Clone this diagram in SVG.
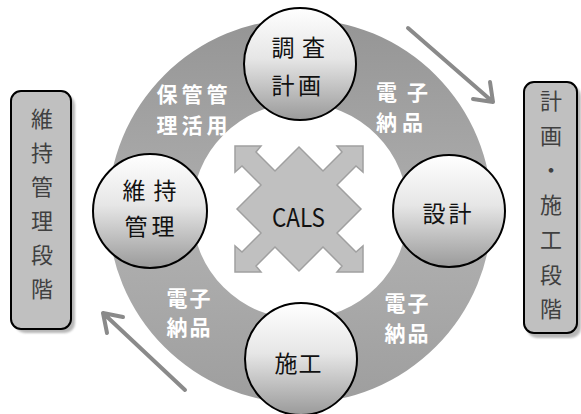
<svg xmlns="http://www.w3.org/2000/svg" width="581" height="414" viewBox="0 0 581 414">
<defs>
<linearGradient id="ringG" x1="0" y1="0" x2="0" y2="1">
<stop offset="0" stop-color="#959595"/>
<stop offset="0.55" stop-color="#b0b0b0"/>
<stop offset="1" stop-color="#9e9e9e"/>
</linearGradient>
<linearGradient id="circG" x1="0" y1="0" x2="0" y2="1">
<stop offset="0" stop-color="#ffffff"/>
<stop offset="0.45" stop-color="#e6e6e6"/>
<stop offset="1" stop-color="#9a9a9a"/>
</linearGradient>
<filter id="blur" x="-20%" y="-20%" width="140%" height="140%"><feGaussianBlur stdDeviation="1.2"/></filter>
</defs>
<style>
.node circle{fill:url(#circG);stroke:#000;stroke-width:2}
.ct{font-family:"Noto Sans CJK JP","Noto Sans CJK SC",sans-serif;font-size:23px;fill:#111;text-anchor:middle}
.wt{font-family:"Noto Sans CJK JP","Noto Sans CJK SC",sans-serif;font-size:21px;font-weight:bold;fill:#fff;text-anchor:middle}
.bt{font-family:"Noto Sans CJK JP","Noto Sans CJK SC",sans-serif;font-size:22px;fill:#404040;text-anchor:middle}
.box{fill:#c0c0c0;stroke:#000;stroke-width:2}
.shadow{fill:#9a9a9a;opacity:0.7;filter:url(#blur)}
.arr{fill:none;stroke:#8a8a8a;stroke-width:4;stroke-linecap:round;stroke-linejoin:round}
</style>
<rect width="581" height="414" fill="#fff"/>
<g id="ring">
<path d="M108,211 a192,192 0 1,0 384,0 a192,192 0 1,0 -384,0 Z M192,211 a108,108 0 1,1 216,0 a108,108 0 1,1 -216,0 Z" fill="url(#ringG)" fill-rule="evenodd"/>
<text class="wt" x="167 192 217" y="102">保管管</text>
<text class="wt" x="167 192 217" y="133">理活用</text>
<text class="wt" x="386.5 417.5" y="100">電子</text>
<text class="wt" x="386.5 412.5" y="130">納品</text>
<text class="wt" x="177 200" y="306">電子</text>
<text class="wt" x="177 200" y="335">納品</text>
<text class="wt" x="395 418" y="311">電子</text>
<text class="wt" x="395 418" y="341">納品</text>
</g>
<g id="cals">
<polygon transform="translate(299,209)" fill="#c0c0c0" stroke="#a0a0a0" stroke-width="1.5" stroke-linejoin="miter" points="0,-62 24,-38 43,-57 38,-63 64,-63 64,-37 57,-43 38,-24 62,0 38,24 57,43 64,37 64,63 38,63 43,57 24,38 0,62 -24,38 -43,57 -38,63 -64,63 -64,37 -57,43 -38,24 -62,0 -38,-24 -57,-43 -64,-37 -64,-63 -38,-63 -43,-57 -24,-38"/>
<text x="298.5" y="227" font-family="'Noto Sans CJK JP',sans-serif" font-size="26" fill="#111" text-anchor="middle" textLength="53" lengthAdjust="spacingAndGlyphs">CALS</text>
</g>
<g id="n-chosa" class="node">
<circle cx="300" cy="64" r="56"/>
<text class="ct" x="283 313.5" y="56">調査</text>
<text class="ct" x="283 309.5" y="94">計画</text>
</g>
<g id="n-sekkei" class="node">
<circle cx="449" cy="211" r="56"/>
<text class="ct" x="434 460" y="222">設計</text>
</g>
<g id="n-seko" class="node">
<circle cx="301" cy="359" r="56"/>
<text class="ct" x="286 310" y="372">施工</text>
</g>
<g id="n-iji" class="node">
<circle cx="150" cy="211" r="57"/>
<text class="ct" x="134 165" y="199">維持</text>
<text class="ct" x="136 163" y="235">管理</text>
</g>
<g id="box-left">
<rect class="shadow" x="15" y="95" width="60" height="238" rx="10"/>
<rect class="box" x="11" y="91" width="60" height="238" rx="10"/>
<text class="bt" x="42" y="127">維</text>
<text class="bt" x="42" y="161">持</text>
<text class="bt" x="42" y="195">管</text>
<text class="bt" x="42" y="229">理</text>
<text class="bt" x="42" y="263">段</text>
<text class="bt" x="42" y="297">階</text>
</g>
<g id="box-right">
<rect class="shadow" x="527" y="86" width="54" height="252" rx="10"/>
<rect class="box" x="524" y="82" width="53" height="251" rx="10"/>
<text class="bt" x="551" y="109">計</text>
<text class="bt" x="551" y="143.7">画</text>
<text class="bt" x="551" y="178.4">・</text>
<text class="bt" x="551" y="213.1">施</text>
<text class="bt" x="551" y="247.8">工</text>
<text class="bt" x="551" y="282.5">段</text>
<text class="bt" x="551" y="317.2">階</text>
</g>
<g id="connectors">
<path class="arr" d="M408,28 L493,102 M473,99 L493,102 L490,82"/>
<path class="arr" d="M185,390 L103,313 M123,317 L103,313 L107,333"/>
</g>
</svg>
